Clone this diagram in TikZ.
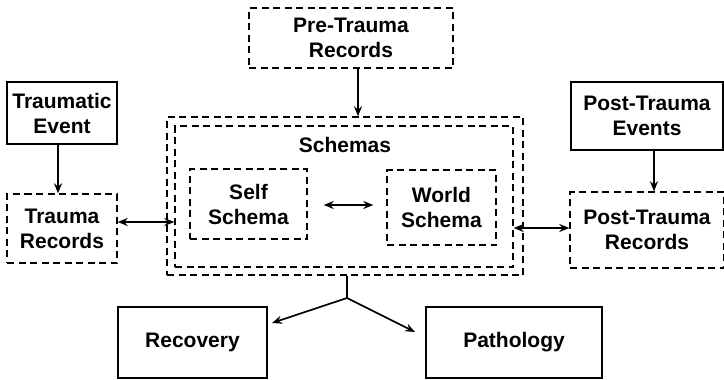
\documentclass[tikz,border=0pt]{standalone}
\usepackage{fontspec}
\setmainfont{Liberation Sans}
\usetikzlibrary{arrows.meta}
\begin{document}
\begin{tikzpicture}[x=1pt,y=-1pt,
  lbl/.style={font=\fontsize{21}{25}\selectfont\bfseries, align=center, inner sep=0pt},
  solidbox/.style={lbl, draw, line width=1.8pt, rectangle},
  dashbox/.style={lbl, draw, line width=1.4pt, dash pattern=on 7pt off 4.5pt, rectangle},
  conn/.style={line width=1.6pt, -{Stealth[length=10pt,width=8pt]}},
  dconn/.style={line width=1.6pt, {Stealth[length=10pt,width=8pt]}-{Stealth[length=10pt,width=8pt]}}]
\useasboundingbox (0,0) rectangle (724,380);

% upper row
\node[dashbox, minimum width=204pt, minimum height=60pt] (pre) at (351,38) {Pre-Trauma\\Records};
\node[solidbox, minimum width=110pt, minimum height=62pt] (tev) at (62,113) {Traumatic\\Event};
\node[solidbox, minimum width=152pt, minimum height=68pt] (pev) at (647,116) {Post-Trauma\\Events};

% record boxes either side
\node[dashbox, minimum width=110pt, minimum height=69pt] (trec) at (62,228.5) {Trauma\\Records};
\node[dashbox, minimum width=154pt, minimum height=76pt] (prec) at (647,230) {Post-Trauma\\Records};

% schema container
\node[dashbox, minimum width=356pt, minimum height=158pt] (outer) at (345,196) {};
\node[dashbox, minimum width=338pt, minimum height=141pt] (inner) at (344,196.5) {};
\node[lbl] (schemas) at (345,145) {Schemas};
\node[dashbox, minimum width=117pt, minimum height=70pt] (self) at (248.5,204) {Self\\Schema};
\node[dashbox, minimum width=109pt, minimum height=75pt] (world) at (441.5,207.5) {World\\Schema};

% outcomes
\node[solidbox, minimum width=149pt, minimum height=71pt] (rec) at (192.5,342.5) {Recovery};
\node[solidbox, minimum width=176pt, minimum height=71pt] (path) at (514,342.5) {Pathology};

% connectors
\draw[conn] ([xshift=7pt]pre.south) -- ([xshift=7pt]pre.south |- outer.north);
\draw[conn] ([xshift=-4pt]tev.south) -- ([xshift=-4pt]tev.south |- trec.north);
\draw[conn] ([xshift=7pt]pev.south) -- ([xshift=7pt]pev.south |- prec.north);
\draw[dconn] ([yshift=6.5pt]trec.east) -- ([yshift=6.5pt]trec.east -| inner.west);
\draw[dconn] ([yshift=2pt]prec.west -| inner.east) -- ([yshift=2pt]prec.west);
\draw[dconn, shorten <=16pt, shorten >=13pt] ([yshift=-1pt]self.east) -- ([yshift=-1pt]self.east -| world.west);

% split towards the two outcomes
\coordinate (br) at (347,298);
\coordinate (recend) at (272,323);
\coordinate (pathend) at (415,332);
\draw[line width=1.6pt] (br |- outer.south) -- (br);
\draw[conn] (br) -- (recend);
\draw[conn] (br) -- (pathend);
\end{tikzpicture}
\end{document}
